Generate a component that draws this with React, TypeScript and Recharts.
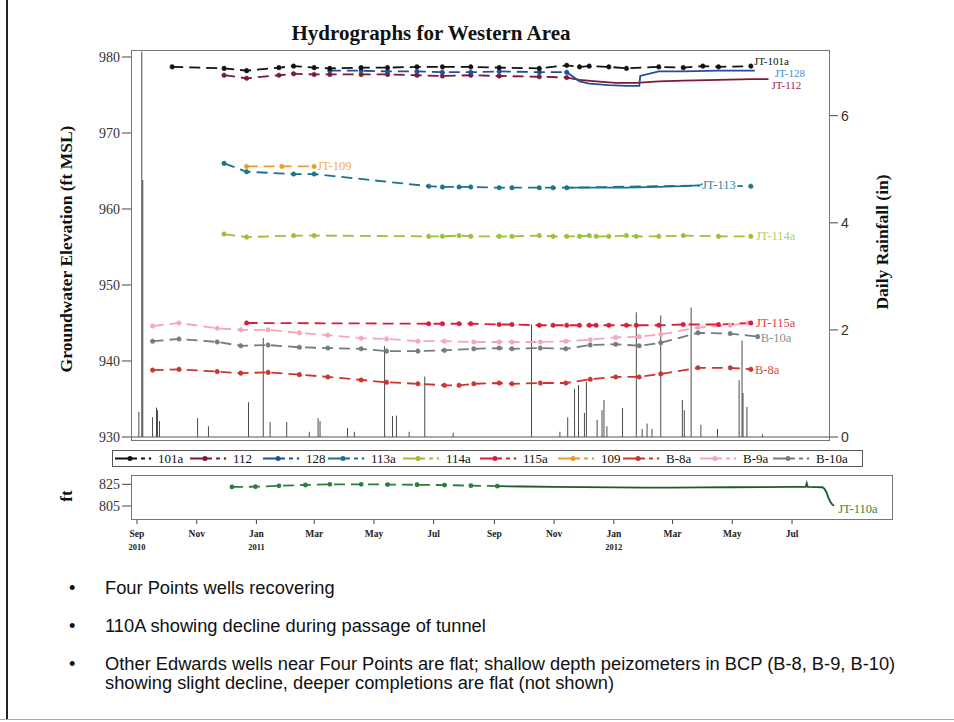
import React from "react";
import { Bar, ComposedChart, Line, ReferenceLine, XAxis, YAxis } from "recharts";

const SERIF = '"Liberation Serif", "Times New Roman", serif';
const SANS = '"Liberation Sans", Arial, sans-serif';

// x values are days since 1 Sep 2010
const BASE = Date.UTC(2010, 8, 1);
const day = (s: string) => (Date.parse(s + "T00:00:00Z") - BASE) / 86400000;

type Pt = [string, number];

const tickMonths = [
  "2010-09-01", "2010-11-01", "2011-01-01", "2011-03-01", "2011-05-01", "2011-07-01",
  "2011-09-01", "2011-11-01", "2012-01-01", "2012-03-01", "2012-05-01", "2012-07-01",
];
const tickLabels = ["Sep", "Nov", "Jan", "Mar", "May", "Jul", "Sep", "Nov", "Jan", "Mar", "May", "Jul"];
const tickYears = ["2010", "", "2011", "", "", "", "", "", "2012", "", "", ""];

const elevTicks = [930, 940, 950, 960, 970, 980];
const rainTicks = [0, 2, 4, 6];
const ftTicks = [805, 825];

const w101a: Pt[] = [
  ["2010-10-07", 978.7], ["2010-11-29", 978.5], ["2010-12-22", 978.2], ["2011-01-24", 978.6],
  ["2011-02-08", 978.8], ["2011-03-01", 978.6], ["2011-03-17", 978.5], ["2011-04-18", 978.6],
  ["2011-05-15", 978.6], ["2011-06-14", 978.7], ["2011-07-10", 978.7], ["2011-08-08", 978.7],
  ["2011-09-06", 978.6], ["2011-10-17", 978.5], ["2011-11-14", 978.9], ["2011-11-27", 978.7],
  ["2011-12-07", 978.8], ["2011-12-27", 978.7], ["2012-01-14", 978.5], ["2012-02-16", 978.7],
  ["2012-03-12", 978.6], ["2012-04-01", 978.8], ["2012-04-17", 978.7], ["2012-05-20", 978.8],
];
const w112: Pt[] = [
  ["2010-11-29", 977.6], ["2010-12-22", 977.2], ["2011-01-24", 977.6], ["2011-02-08", 977.8],
  ["2011-03-01", 977.7], ["2011-03-17", 977.7], ["2011-04-18", 977.7], ["2011-05-15", 977.7],
  ["2011-06-14", 977.6], ["2011-07-10", 977.5], ["2011-08-08", 977.6], ["2011-09-06", 977.5],
  ["2011-10-17", 977.4], ["2011-11-14", 977.3],
];
const w112log: Pt[] = [
  ["2011-11-14", 977.3], ["2011-11-27", 977.0], ["2011-12-14", 976.8], ["2012-01-03", 976.6],
  ["2012-01-24", 976.6], ["2012-02-16", 976.8], ["2012-03-12", 976.9], ["2012-04-17", 977.0],
  ["2012-05-20", 977.1], ["2012-06-07", 977.1],
];
const w128: Pt[] = [
  ["2011-03-17", 978.2], ["2011-04-18", 978.2], ["2011-05-15", 978.1], ["2011-06-14", 978.1],
  ["2011-07-10", 978.0], ["2011-08-08", 978.0], ["2011-09-06", 978.1], ["2011-10-17", 978.0],
  ["2011-11-14", 978.0],
];
const w128log: Pt[] = [
  ["2011-11-14", 978.0], ["2011-11-27", 976.8], ["2011-12-07", 976.5], ["2011-12-27", 976.3],
  ["2012-01-14", 976.2], ["2012-01-27", 976.2], ["2012-01-28", 977.5], ["2012-02-16", 978.1],
  ["2012-03-12", 978.1], ["2012-04-17", 978.2], ["2012-05-24", 978.2],
];
const w113a: Pt[] = [
  ["2010-11-29", 966.0], ["2010-12-22", 964.9], ["2011-02-08", 964.6], ["2011-03-01", 964.6],
  ["2011-06-26", 963.0], ["2011-07-10", 962.9], ["2011-07-27", 962.9], ["2011-08-08", 962.9],
  ["2011-09-06", 962.8], ["2011-09-19", 962.8], ["2011-10-17", 962.8], ["2011-10-31", 962.8],
  ["2011-11-14", 962.8], ["2012-04-01", 963.1], ["2012-05-20", 963.0],
];
const w113alog: Pt[] = [
  ["2011-11-14", 962.8], ["2011-12-14", 962.8], ["2012-01-14", 962.8], ["2012-02-16", 962.9],
  ["2012-03-12", 963.0], ["2012-03-28", 963.1],
];
const w109: Pt[] = [["2010-12-22", 965.6], ["2011-01-27", 965.6], ["2011-03-01", 965.6]];
const w114a: Pt[] = [
  ["2010-11-29", 956.7], ["2010-12-22", 956.3], ["2011-02-08", 956.5], ["2011-03-01", 956.5],
  ["2011-06-26", 956.4], ["2011-07-10", 956.4], ["2011-07-27", 956.5], ["2011-08-08", 956.4],
  ["2011-09-06", 956.4], ["2011-09-19", 956.4], ["2011-10-17", 956.5], ["2011-10-31", 956.4],
  ["2011-11-14", 956.4], ["2011-11-27", 956.4], ["2011-12-07", 956.5], ["2011-12-14", 956.4],
  ["2011-12-27", 956.4], ["2012-01-14", 956.5], ["2012-01-24", 956.4], ["2012-02-16", 956.4],
  ["2012-03-12", 956.5], ["2012-04-17", 956.4], ["2012-05-20", 956.4],
];
const w115a: Pt[] = [
  ["2010-12-22", 945.0], ["2011-06-26", 944.9], ["2011-07-10", 944.9], ["2011-07-27", 944.9],
  ["2011-08-08", 944.9], ["2011-09-06", 944.8], ["2011-09-19", 944.8], ["2011-10-17", 944.7],
  ["2011-10-31", 944.7], ["2011-11-14", 944.7], ["2011-11-27", 944.7], ["2011-12-07", 944.7],
  ["2011-12-14", 944.7], ["2011-12-27", 944.7], ["2012-01-14", 944.7], ["2012-01-24", 944.7],
  ["2012-02-16", 944.7], ["2012-03-12", 944.8], ["2012-04-17", 944.8], ["2012-05-20", 945.0],
];
const wB8a: Pt[] = [
  ["2010-09-17", 938.8], ["2010-10-14", 938.9], ["2010-11-22", 938.6], ["2010-12-16", 938.4],
  ["2011-01-13", 938.5], ["2011-02-14", 938.2], ["2011-03-15", 937.9], ["2011-04-18", 937.5],
  ["2011-05-14", 937.2], ["2011-06-15", 937.0], ["2011-07-12", 936.8], ["2011-07-27", 936.8],
  ["2011-08-11", 937.0], ["2011-09-06", 937.1], ["2011-09-19", 937.0], ["2011-10-18", 937.1],
  ["2011-11-13", 937.1], ["2011-12-08", 937.6], ["2012-01-03", 937.9], ["2012-01-27", 937.9],
  ["2012-02-18", 938.3], ["2012-03-27", 939.1], ["2012-04-29", 939.1], ["2012-05-20", 938.9],
];
const wB9a: Pt[] = [
  ["2010-09-17", 944.6], ["2010-10-14", 945.0], ["2010-11-22", 944.3], ["2010-12-16", 944.1],
  ["2011-01-13", 944.1], ["2011-02-14", 943.7], ["2011-03-15", 943.4], ["2011-04-18", 943.0],
  ["2011-05-14", 942.9], ["2011-06-15", 942.6], ["2011-07-12", 942.6], ["2011-08-11", 942.5],
  ["2011-09-06", 942.5], ["2011-09-19", 942.5], ["2011-10-18", 942.5], ["2011-11-13", 942.6],
  ["2011-12-08", 942.8], ["2012-01-03", 943.1], ["2012-01-27", 943.2], ["2012-02-18", 943.5],
  ["2012-03-27", 944.4], ["2012-04-29", 944.7], ["2012-05-17", 945.0],
];
const wB10a: Pt[] = [
  ["2010-09-17", 942.6], ["2010-10-14", 942.9], ["2010-11-22", 942.5], ["2010-12-16", 942.0],
  ["2011-01-13", 942.1], ["2011-02-14", 941.8], ["2011-03-15", 941.7], ["2011-04-18", 941.6],
  ["2011-05-14", 941.3], ["2011-06-15", 941.3], ["2011-07-12", 941.4], ["2011-08-11", 941.6],
  ["2011-09-06", 941.7], ["2011-09-19", 941.6], ["2011-10-18", 941.7], ["2011-11-13", 941.6],
  ["2011-12-08", 942.1], ["2012-01-03", 942.2], ["2012-01-27", 942.0], ["2012-02-18", 942.4],
  ["2012-03-27", 943.7], ["2012-04-29", 943.6], ["2012-05-27", 943.2],
];
const w110a: Pt[] = [
  ["2010-12-07", 822.6], ["2010-12-31", 822.8], ["2011-01-24", 823.6], ["2011-02-20", 824.4],
  ["2011-03-17", 825.0], ["2011-04-18", 825.0], ["2011-05-15", 824.8], ["2011-06-14", 824.6],
  ["2011-07-12", 824.3], ["2011-08-08", 823.8], ["2011-09-04", 823.3],
];
const w110alog: Pt[] = [
  ["2011-09-04", 823.3], ["2011-10-01", 823.0], ["2011-11-01", 822.7], ["2011-12-01", 822.4],
  ["2012-01-01", 822.1], ["2012-02-01", 821.9], ["2012-03-01", 822.0], ["2012-04-01", 822.2],
  ["2012-05-01", 822.3], ["2012-06-01", 822.5], ["2012-07-01", 822.6], ["2012-07-15", 822.7],
  ["2012-07-16", 826.0], ["2012-07-17", 822.7], ["2012-08-01", 822.3], ["2012-08-03", 821.0],
  ["2012-08-05", 818.0], ["2012-08-07", 813.0], ["2012-08-09", 809.0], ["2012-08-11", 806.5],
  ["2012-08-13", 805.3],
];

const rain: Pt[] = [
  ["2010-09-03", 0.47], ["2010-09-06", 7.2], ["2010-09-07", 4.8], ["2010-09-17", 0.37],
  ["2010-09-21", 0.55], ["2010-09-22", 0.5], ["2010-09-24", 0.3], ["2010-11-02", 0.35],
  ["2010-11-13", 0.2], ["2010-12-24", 0.65], ["2011-01-08", 1.85], ["2011-01-15", 0.28],
  ["2011-02-01", 0.28], ["2011-02-24", 0.1], ["2011-03-05", 0.35], ["2011-03-07", 0.3],
  ["2011-04-04", 0.17], ["2011-04-11", 0.1], ["2011-05-12", 1.7], ["2011-05-20", 0.39],
  ["2011-05-24", 0.4], ["2011-06-06", 0.1], ["2011-06-22", 1.13], ["2011-07-21", 0.08],
  ["2011-10-09", 2.1], ["2011-11-07", 0.1], ["2011-11-15", 0.37], ["2011-11-22", 0.9],
  ["2011-11-26", 0.97], ["2011-12-02", 0.45], ["2011-12-04", 1.03], ["2011-12-15", 0.32],
  ["2011-12-20", 0.5], ["2011-12-22", 0.69], ["2011-12-25", 0.2], ["2012-01-10", 0.54],
  ["2012-01-24", 2.33], ["2012-01-30", 0.15], ["2012-02-04", 0.25], ["2012-02-09", 0.15],
  ["2012-02-18", 2.27], ["2012-03-11", 0.69], ["2012-03-13", 0.5], ["2012-03-20", 2.42],
  ["2012-03-30", 0.23], ["2012-04-16", 0.15], ["2012-05-08", 1.06], ["2012-05-11", 1.8],
  ["2012-05-12", 0.82], ["2012-05-16", 0.56], ["2012-06-01", 0.05],
];

type Well = {
  name: string;
  color: string;
  manual: Pt[];
  logger?: Pt[];
  label?: string;
  labelColor?: string;
  labelOn?: "manual" | "logger";
  dx?: number;
  dy?: number;
  fs?: number;
  halo?: boolean;
};

// legend order
const wells: Well[] = [
  { name: "101a", color: "#111111", manual: w101a, label: "JT-101a", dx: 3, dy: -5, fs: 11 },
  { name: "112", color: "#7d1838", manual: w112, logger: w112log, labelOn: "logger", label: "JT-112", labelColor: "#9c2547", dx: 3, dy: 6, fs: 11 },
  { name: "128", color: "#1f4f9e", manual: w128, logger: w128log, labelOn: "logger", label: "JT-128", labelColor: "#3b8ed0", dx: 20, dy: 2.5, fs: 11 },
  { name: "113a", color: "#1b7489", manual: w113a, logger: w113alog, labelOn: "logger", label: "JT-113", labelColor: "#2a8aa0", dx: 3, dy: 0, halo: true },
  { name: "114a", color: "#9dc03a", manual: w114a, label: "JT-114a", labelColor: "#b5cf62", dx: 5, dy: 0 },
  { name: "115a", color: "#d81e38", manual: w115a, label: "JT-115a", labelColor: "#e0404f", dx: 5, dy: 0 },
  { name: "109", color: "#e99a2c", manual: w109, label: "JT-109", labelColor: "#efab55", dx: 3, dy: 0 },
  { name: "B-8a", color: "#cc3430", manual: wB8a, label: "B-8a", labelColor: "#d94a40", dx: 4, dy: 1 },
  { name: "B-9a", color: "#f4a6ba", manual: wB9a },
  { name: "B-10a", color: "#747c7c", manual: wB10a, label: "B-10a", labelColor: "#8a8f8f", dx: 3, dy: 1 },
];
const drawOrder = ["B-10a", "B-9a", "B-8a", "109", "115a", "114a", "113a", "112", "128", "101a"];

const toRows = (pts: Pt[]) => pts.map(([d, v]) => ({ t: day(d), v }));
const rainRows = rain.map(([d, v]) => ({ t: day(d), rain: v }));
const tickDays = tickMonths.map(day);

const endLabel = (text: string, color: string, n: number, dx: number, dy: number, fs = 12.5, halo = false) => (p: any) =>
  p.index === n - 1 ? (
    <text
      x={p.x + dx}
      y={p.y + dy}
      fill={color}
      fontSize={fs}
      fontFamily={SERIF}
      dominantBaseline="central"
      stroke={halo ? "#fff" : "none"}
      strokeWidth={halo ? 4 : 0}
      paintOrder="stroke"
    >
      {text}
    </text>
  ) : null;

const MonthTick = (p: any) => {
  const i = tickDays.indexOf(p.payload.value);
  return (
    <g fontFamily={SERIF} fontWeight="bold" fill="#222" fontSize={9.5}>
      <text x={p.x} y={p.y + 11} textAnchor="middle">{tickLabels[i]}</text>
      {tickYears[i] ? <text x={p.x} y={p.y + 24} textAnchor="middle" fontSize={8.5}>{tickYears[i]}</text> : null}
    </g>
  );
};

const axisTick = { fontSize: 14, fontFamily: SERIF, fill: "#333" };

const legendX = [115, 190, 263, 328, 403, 480, 558, 623, 700, 773];

const App = () => {
  const ordered = drawOrder.map((n) => wells.find((w) => w.name === n)!);
  return (
    <div style={{ position: "absolute", left: 0, top: 0, width: 954, height: 722, background: "#fff", overflow: "hidden" }}>
      {/* main panel */}
      <div style={{ position: "absolute", left: 0, top: 0 }}>
        <ComposedChart width={954} height={460} data={rainRows} margin={{ top: 50, right: 64, bottom: 19, left: 71 }}>
          <XAxis dataKey="t" type="number" domain={[-6.1, 707.8]} allowDataOverflow hide />
          <YAxis
            yAxisId="elev"
            domain={[929.47, 980.92]}
            ticks={elevTicks}
            allowDataOverflow
            width={60}
            axisLine={false}
            tickSize={9}
            tickMargin={2}
            tickLine={{ stroke: "#444" }}
            tick={axisTick}
          />
          <YAxis
            yAxisId="rain"
            orientation="right"
            domain={[-0.0747, 7.227]}
            ticks={rainTicks}
            allowDataOverflow
            width={60}
            axisLine={false}
            tickSize={8}
            tickMargin={3}
            tickLine={{ stroke: "#444" }}
            tick={{ fontSize: 14, fontFamily: SANS, fill: "#333" }}
          />
          <ReferenceLine yAxisId="rain" y={0} stroke="#555" strokeWidth={1} />
          <Bar yAxisId="rain" dataKey="rain" fill="#333" barSize={1} isAnimationActive={false} />
          {ordered.map((w) => {
            const lines = [
              <Line
                key={w.name + "-m"}
                yAxisId="elev"
                data={toRows(w.manual)}
                dataKey="v"
                type="linear"
                stroke={w.color}
                strokeWidth={1.8}
                strokeDasharray="11 6"
                dot={{ r: 2.3, fill: w.color, stroke: w.color, strokeWidth: 0.5 }}
                activeDot={false}
                isAnimationActive={false}
                label={w.label && w.labelOn !== "logger" ? endLabel(w.label, w.labelColor || w.color, w.manual.length, w.dx || 0, w.dy || 0, w.fs, w.halo) : false}
              />,
            ];
            if (w.logger) {
              lines.push(
                <Line
                  key={w.name + "-l"}
                  yAxisId="elev"
                  data={toRows(w.logger)}
                  dataKey="v"
                  type="linear"
                  stroke={w.color}
                  strokeWidth={1.8}
                  dot={false}
                  activeDot={false}
                  isAnimationActive={false}
                  label={w.label ? endLabel(w.label, w.labelColor || w.color, w.logger.length, w.dx || 0, w.dy || 0, w.fs, w.halo) : false}
                />
              );
            }
            return lines;
          })}
        </ComposedChart>
      </div>
      <div style={{ position: "absolute", left: 131, top: 50, width: 699, height: 391, border: "1px solid #777", boxSizing: "border-box", pointerEvents: "none" }} />

      {/* 110a panel */}
      <div style={{ position: "absolute", left: 0, top: 440 }}>
        <ComposedChart width={954} height={120} margin={{ top: 35, right: 61, bottom: 0, left: 71 }}>
          <XAxis
            dataKey="t"
            type="number"
            domain={[-6.1, 772.1]}
            allowDataOverflow
            ticks={tickDays}
            interval={0}
            height={40}
            axisLine={false}
            tickSize={4}
            tickLine={{ stroke: "#444" }}
            tick={<MonthTick />}
          />
          <YAxis
            domain={[792.1, 833.6]}
            ticks={ftTicks}
            allowDataOverflow
            width={60}
            axisLine={false}
            tickSize={9}
            tickMargin={2}
            tickLine={{ stroke: "#444" }}
            tick={axisTick}
          />
          <Line
            data={toRows(w110a)}
            dataKey="v"
            type="linear"
            stroke="#2e7d3a"
            strokeWidth={1.8}
            strokeDasharray="11 6"
            dot={{ r: 1.5, fill: "#2e7d3a", stroke: "#2e7d3a" }}
            activeDot={false}
            isAnimationActive={false}
          />
          <Line
            data={toRows(w110alog)}
            dataKey="v"
            type="linear"
            stroke="#1d5a2c"
            strokeWidth={1.8}
            dot={false}
            activeDot={false}
            isAnimationActive={false}
            label={endLabel("JT-110a", "#2e8a45", w110alog.length, 4, 3)}
          />
        </ComposedChart>
      </div>
      <div style={{ position: "absolute", left: 131, top: 475, width: 762, height: 45, border: "1px solid #777", boxSizing: "border-box", pointerEvents: "none" }} />

      {/* legend and text */}
      <svg style={{ position: "absolute", left: 0, top: 0 }} width={954} height={722} pointerEvents="none">
        <rect x={112.5} y={450.5} width={750} height={16} fill="#fff" stroke="#555" />
        {wells.map((w, i) => {
          const x = legendX[i];
          const y = 458.5;
          return (
            <g key={w.name}>
              <line x1={x} y1={y} x2={x + 22} y2={y} stroke={w.color} strokeWidth={2} />
              <circle cx={x + 15} cy={y} r={2.5} fill={w.color} />
              <line x1={x + 26} y1={y} x2={x + 30} y2={y} stroke={w.color} strokeWidth={2} />
              <circle cx={x + 35} cy={y} r={1.2} fill={w.color} />
              <text x={x + 43} y={y + 4.5} fontSize={13} fontFamily={SERIF} fill="#111">{w.name}</text>
            </g>
          );
        })}

        <text x={431} y={40} textAnchor="middle" fontSize={21} fontWeight="bold" fontFamily={SERIF} fill="#111">
          Hydrographs for Western Area
        </text>
        <text transform="translate(66,249) rotate(-90)" textAnchor="middle" dominantBaseline="central" fontSize={17.5} fontWeight="bold" fontFamily={SERIF} fill="#111">
          Groundwater Elevation (ft MSL)
        </text>
        <text transform="translate(882,242) rotate(-90)" textAnchor="middle" dominantBaseline="central" fontSize={17.5} fontWeight="bold" fontFamily={SERIF} fill="#111">
          Daily Rainfall (in)
        </text>
        <text transform="translate(66,496) rotate(-90)" textAnchor="middle" dominantBaseline="central" fontSize={17} fontWeight="bold" fontFamily={SERIF} fill="#111">
          ft
        </text>

        <g fontFamily={SANS} fontSize={18.3} fill="#111">
          <text x={69} y={594}>•</text>
          <text x={105} y={594}>Four Points wells recovering</text>
          <text x={69} y={632}>•</text>
          <text x={105} y={632}>110A showing decline during passage of tunnel</text>
          <text x={69} y={670}>•</text>
          <text x={105} y={670}>Other Edwards wells near Four Points are flat; shallow depth peizometers in BCP (B-8, B-9, B-10)</text>
          <text x={105} y={689}>showing slight decline, deeper completions are flat (not shown)</text>
        </g>

        <line x1={7} y1={0} x2={7} y2={719} stroke="#222" strokeWidth={2} />
        <line x1={0} y1={719.5} x2={954} y2={719.5} stroke="#aaa" strokeWidth={1} />
      </svg>
    </div>
  );
};

export default App;
